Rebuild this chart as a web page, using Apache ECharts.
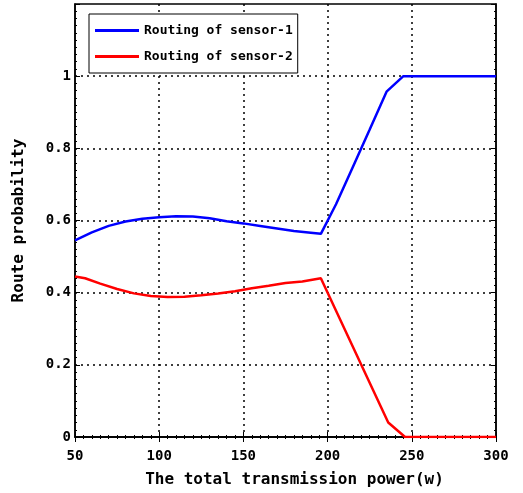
<!DOCTYPE html>
<html><head><meta charset="utf-8">
<script src="https://cdn.jsdelivr.net/npm/echarts@6/dist/echarts.min.js"></script>
<style>html,body{margin:0;padding:0;background:#fff}#c{width:523px;height:493px}</style>
</head><body><div id="c"></div>
<script>
var sensor1X = [50,60,70,80,90,100,110,120,130,140,150,160,170,180,190,196,205,215,225,235,245,300];
var sensor1Y = [0.545,0.567,0.585,0.597,0.605,0.609,0.612,0.611,0.606,0.598,0.592,0.585,0.578,0.571,0.566,0.563,0.645,0.748,0.852,0.957,1,1];
var sensor2X = [50,56,65,75,85,95,105,115,125,135,145,155,165,175,185,196,236,246,300];
var sensor2Y = [0.445,0.44,0.425,0.41,0.398,0.391,0.388,0.389,0.393,0.398,0.404,0.412,0.419,0.427,0.431,0.44,0.04,0,0];
var seriesNames = ['Routing of sensor-1','Routing of sensor-2'];
var xTicks = [50,100,150,200,250,300];
var yTicks = [0,0.2,0.4,0.6,0.8,1];

function pairs(xs, ys){ return xs.map(function(x,i){return [x, ys[i]];}); }
var FONT = 'DejaVu Sans Mono';
var chart = echarts.init(document.getElementById('c'));
var axisCommon = {
  axisLine:{show:true,lineStyle:{color:'#000',width:1.5}},
  axisTick:{show:true,inside:true,length:5,lineStyle:{color:'#000',width:1}},
  minorTick:{show:true,splitNumber:10,length:2,lineStyle:{color:'#000',width:1}}
};
var dotted = {show:true,showMinLine:false,showMaxLine:false,lineStyle:{color:'#000',type:[2,4],width:1.5}};
chart.setOption({
  animation:false,
  backgroundColor:'#fff',
  grid:{left:75,right:27,top:4,bottom:53,show:true,borderColor:'#000',borderWidth:1.5,backgroundColor:'transparent'},
  legend:{
    orient:'vertical', left:89, top:14,
    data:seriesNames.map(function(n){return {name:n,icon:'rect'};}),
    backgroundColor:'#fff', borderColor:'#000', borderWidth:1,
    padding:[10,5,10,6], itemGap:13, itemWidth:44, itemHeight:3,
    textStyle:{fontFamily:FONT,fontWeight:'bold',fontSize:13,color:'#000',lineHeight:13},
    z:10
  },
  xAxis:[
    Object.assign({type:'value',min:50,max:300,interval:50,position:'bottom',
      name:'The total transmission power(w)',nameLocation:'middle',nameGap:35,
      nameTextStyle:{fontFamily:FONT,fontWeight:'bold',fontSize:16,color:'#000',padding:[0,0,0,18]},
      axisLabel:{fontFamily:FONT,fontWeight:'bold',fontSize:14,color:'#000',margin:12,
        formatter:function(v){return xTicks.indexOf(v)>=0?String(v):'';}},
      splitLine:dotted
    },axisCommon),
    Object.assign({type:'value',min:50,max:300,interval:50,position:'top',
      axisLabel:{show:false},splitLine:{show:false}},axisCommon)
  ],
  yAxis:[
    Object.assign({type:'value',min:0,max:1.2,interval:0.2,position:'left',
      name:'Route probability',nameLocation:'middle',nameGap:48,
      nameTextStyle:{fontFamily:FONT,fontWeight:'bold',fontSize:16,color:'#000'},
      axisLabel:{fontFamily:FONT,fontWeight:'bold',fontSize:14,color:'#000',margin:4,
        formatter:function(v){
          for(var i=0;i<yTicks.length;i++){ if(Math.abs(yTicks[i]-v)<1e-6) return String(yTicks[i]); }
          return '';
        }},
      splitLine:dotted
    },axisCommon),
    Object.assign({type:'value',min:0,max:1.2,interval:0.2,position:'right',
      axisLabel:{show:false},splitLine:{show:false}},axisCommon)
  ],
  series:[
    {name:seriesNames[0],type:'line',symbol:'none',data:pairs(sensor1X,sensor1Y),
      lineStyle:{color:'#0000ff',width:2.5},itemStyle:{color:'#0000ff'},z:5},
    {name:seriesNames[1],type:'line',symbol:'none',data:pairs(sensor2X,sensor2Y),
      lineStyle:{color:'#ff0000',width:2.5},itemStyle:{color:'#ff0000'},z:5}
  ]
});
</script></body></html>
